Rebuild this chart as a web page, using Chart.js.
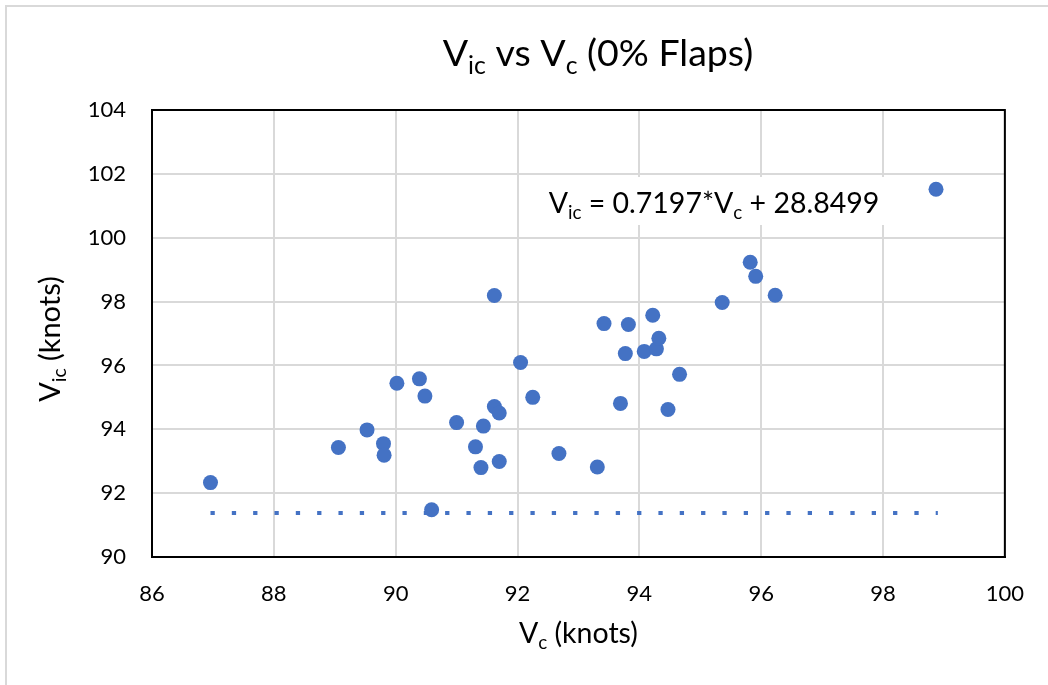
<!DOCTYPE html>
<html>
<head>
<meta charset="utf-8">
<script src="https://cdn.jsdelivr.net/npm/chart.js@4"></script>
<style>
  html, body { margin: 0; padding: 0; background: #fff; }
  #wrap { width: 1048px; height: 685px; }
</style>
</head>
<body>
<div id="wrap"><canvas id="myChart" width="1048" height="685"></canvas></div>
<script>
// measured points, Vc (x) and Vic (y), knots
var vc  = [86.96, 89.06, 89.53, 89.80, 89.81, 90.02, 90.39, 90.48, 90.59, 91.00,
           91.44, 91.31, 91.40, 91.62, 91.70, 91.70, 92.05, 92.25, 92.68, 91.62,
           93.31, 93.69, 93.42, 93.82, 94.22, 93.77, 94.08, 94.28, 94.32, 94.66,
           94.47, 95.36, 98.87, 95.82, 95.91, 96.23];
var vic = [92.33, 93.43, 93.98, 93.55, 93.19, 95.44, 95.58, 95.04, 91.48, 94.21,
           94.10, 93.45, 92.80, 94.71, 94.51, 92.99, 96.09, 95.00, 93.24, 98.19,
           92.82, 94.81, 97.31, 97.28, 97.57, 96.37, 96.44, 96.52, 96.85, 95.72,
           94.62, 97.97, 101.52, 99.23, 98.79, 98.20];

// trendline as it appears on the chart (flat dotted line)
var trendX = [86.96, 98.90];
var trendY = [91.38, 91.38];

var xTicks = [86, 88, 90, 92, 94, 96, 98, 100];
var yTicks = [90, 92, 94, 96, 98, 100, 102, 104];

// rich text pieces, second item 1 = subscript
var titleParts = [["V"], ["ic", 1], [" vs V"], ["c", 1], [" (0% Flaps)"]];
var xTitleParts = [["V"], ["c", 1], [" (knots)"]];
var yTitleParts = [["V"], ["ic", 1], [" (knots)"]];
var eqParts = [["V"], ["ic", 1], [" = 0.7197*V"], ["c", 1], [" + 28.8499"]];

var FONT = 'Lato, "Open Sans", sans-serif';
var BLUE = '#4472C4';

function richWidth(ctx, parts, size){
    var w = 0;
    for (var i = 0; i < parts.length; i++){
        ctx.font = (parts[i][1] ? size * 0.66 : size) + 'px ' + FONT;
        w += ctx.measureText(parts[i][0]).width;
    }
    return w;
}

function drawRich(ctx, parts, cx, baseline, size){
    var w = richWidth(ctx, parts, size);
    var x = cx - w / 2;
    ctx.textAlign = 'left';
    ctx.textBaseline = 'alphabetic';
    ctx.fillStyle = '#000';
    for (var i = 0; i < parts.length; i++){
        var sub = parts[i][1];
        ctx.font = (sub ? size * 0.66 : size) + 'px ' + FONT;
        ctx.fillText(parts[i][0], x, baseline + (sub ? size * 0.2 : 0));
        x += ctx.measureText(parts[i][0]).width;
    }
    return w;
}

var textPlugin = {
    id: 'textPlugin',
    beforeDraw: function(chart){
        var ctx = chart.ctx;
        ctx.save();
        ctx.fillStyle = '#fff';
        ctx.fillRect(0, 0, chart.width, chart.height);
        ctx.strokeStyle = '#D9D9D9';
        ctx.lineWidth = 2;
        ctx.strokeRect(6, 6, chart.width + 10, chart.height + 10);
        ctx.restore();
    },
    afterDraw: function(chart){
        var ctx = chart.ctx;
        var a = chart.chartArea;
        ctx.save();
        // plot area frame
        ctx.strokeStyle = '#000';
        ctx.lineWidth = 2;
        ctx.strokeRect(a.left, a.top, a.right - a.left, a.bottom - a.top);

        drawRich(ctx, titleParts, 598, 66, 37.5);
        drawRich(ctx, xTitleParts, (a.left + a.right) / 2, 643, 28.5);

        ctx.translate(60, 339);
        ctx.rotate(-Math.PI / 2);
        drawRich(ctx, yTitleParts, 0, 0, 29);
        ctx.setTransform(1, 0, 0, 1, 0, 0);

        // equation box
        var eqSize = 28.5;
        var w = richWidth(ctx, eqParts, eqSize);
        var cx = 714, base = 213;
        ctx.fillStyle = '#fff';
        ctx.fillRect(cx - w / 2 - 12, 177, w + 24, 48);
        drawRich(ctx, eqParts, cx, base, eqSize);
        ctx.restore();
    }
};

var points = vc.map(function(v, i){ return {x: v, y: vic[i]}; });
var trend = trendX.map(function(v, i){ return {x: v, y: trendY[i]}; });

new Chart(document.getElementById('myChart'), {
    type: 'scatter',
    data: {
        datasets: [{
            label: 'Vic',
            data: points,
            backgroundColor: BLUE,
            borderColor: BLUE,
            pointRadius: 7.5,
            pointBorderWidth: 0,
            order: 1
        }, {
            label: 'Linear (Vic)',
            type: 'line',
            data: trend,
            showLine: true,
            borderColor: BLUE,
            borderWidth: 4,
            borderDash: [4.3, 17.03],
            pointRadius: 0,
            fill: false,
            order: 2
        }]
    },
    options: {
        responsive: false,
        animation: false,
        devicePixelRatio: 1,
        layout: { padding: { left: 0, top: 110, right: 40, bottom: 0 } },
        plugins: {
            legend: { display: false },
            tooltip: { enabled: false }
        },
        scales: {
            x: {
                type: 'linear',
                min: 86, max: 100,
                afterBuildTicks: function(s){ s.ticks = xTicks.map(function(v){ return {value: v}; }); },
                afterFit: function(s){ s.height = 128; },
                grid: { color: '#D9D9D9', lineWidth: 2, drawTicks: false },
                border: { color: '#000', width: 2 },
                ticks: { padding: 24, color: '#000', font: { family: FONT, size: 22 } }
            },
            y: {
                type: 'linear',
                min: 90, max: 104,
                afterBuildTicks: function(s){ s.ticks = yTicks.map(function(v){ return {value: v}; }); },
                afterFit: function(s){ s.width = 152; },
                grid: { color: '#D9D9D9', lineWidth: 2, drawTicks: false },
                border: { color: '#000', width: 2 },
                ticks: { padding: 26, color: '#000', font: { family: FONT, size: 22 } }
            }
        }
    },
    plugins: [textPlugin]
});
</script>
</body>
</html>
